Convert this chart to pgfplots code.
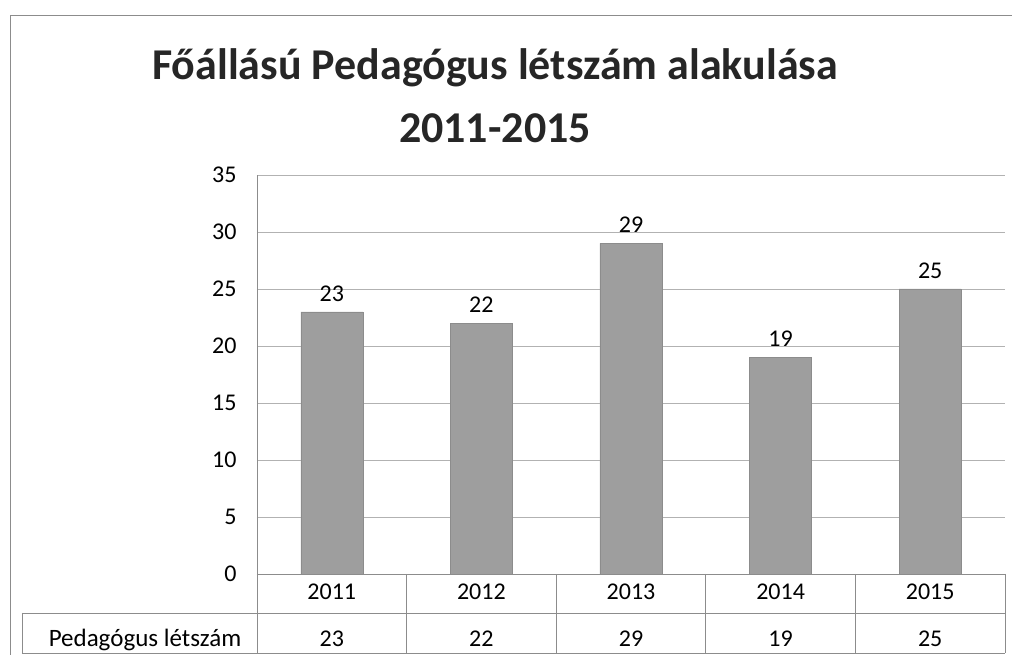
\documentclass[border=0pt]{standalone}
\usepackage{fontspec}
\setmainfont{Carlito}
\usepackage{pgfplots}
\usepackage{pgfplotstable}
\pgfplotsset{compat=1.18}
\pgfplotstableread{
x year value
0 2011 23
1 2012 22
2 2013 29
3 2014 19
4 2015 25
}\datatable
\begin{document}
\begin{tikzpicture}[x=1pt,y=1pt]
\useasboundingbox (-257,-81) rectangle (755,574);
\draw[black!45, line width=0.8pt] (-247,-95) -- (-247,559) -- (760,559);
\begin{axis}[
  at={(0,0)}, anchor=south west,
  scale only axis, width=748pt, height=399pt,
  xmin=-0.5, xmax=4.5, ymin=0, ymax=35,
  ytick={0,5,...,35},
  xtick={0,1,2,3,4},
  xticklabels={2011,2012,2013,2014,2015},
  extra x ticks={0,1,2,3,4},
  extra x tick labels={23,22,29,19,25},
  extra x tick style={xticklabel style={yshift=-47pt}},
  axis lines*=left,
  axis line style={black!45, line width=0.8pt, -},
  major tick length=0pt,
  ymajorgrids, xmajorgrids=false,
  major grid style={black!30, line width=0.7pt},
  tick label style={font=\fontsize{24}{28}\selectfont, text=black},
  /pgf/number format/assume math mode=true,
  xticklabel style={anchor=base, yshift=-26pt},
  yticklabel style={xshift=-17pt},
  clip=false,
]
\addplot[ybar, bar width=62pt, fill=black!38, draw=black!45,
  nodes near coords,
  nodes near coords style={font=\fontsize{24}{28}\selectfont, text=black, yshift=7pt},
  /pgf/number format/assume math mode=true]
  table[x=x, y=value]{\datatable};
\end{axis}
% data table grid
\draw[black!45, line width=0.8pt] (-235,-39) -- (748,-39);
\draw[black!45, line width=0.8pt] (-235,-79) -- (748,-79);
\draw[black!45, line width=0.8pt] (-235,-39) -- (-235,-79);
\foreach \xx in {0,149.6,299.2,448.8,598.4,748}
  \draw[black!45, line width=0.8pt] (\xx,0) -- (\xx,-79);
\node[anchor=base, font=\fontsize{25}{28}\selectfont] at (-112,-73) {Pedagógus létszám};
% title
\node[anchor=base, font=\fontsize{44}{52}\bfseries\selectfont, text=black!85] at (238,494)
  {Főállású Pedagógus létszám alakulása};
\node[anchor=base, font=\fontsize{44}{52}\bfseries\selectfont, text=black!85] at (238,431)
  {2011-2015};
\end{tikzpicture}
\end{document}
